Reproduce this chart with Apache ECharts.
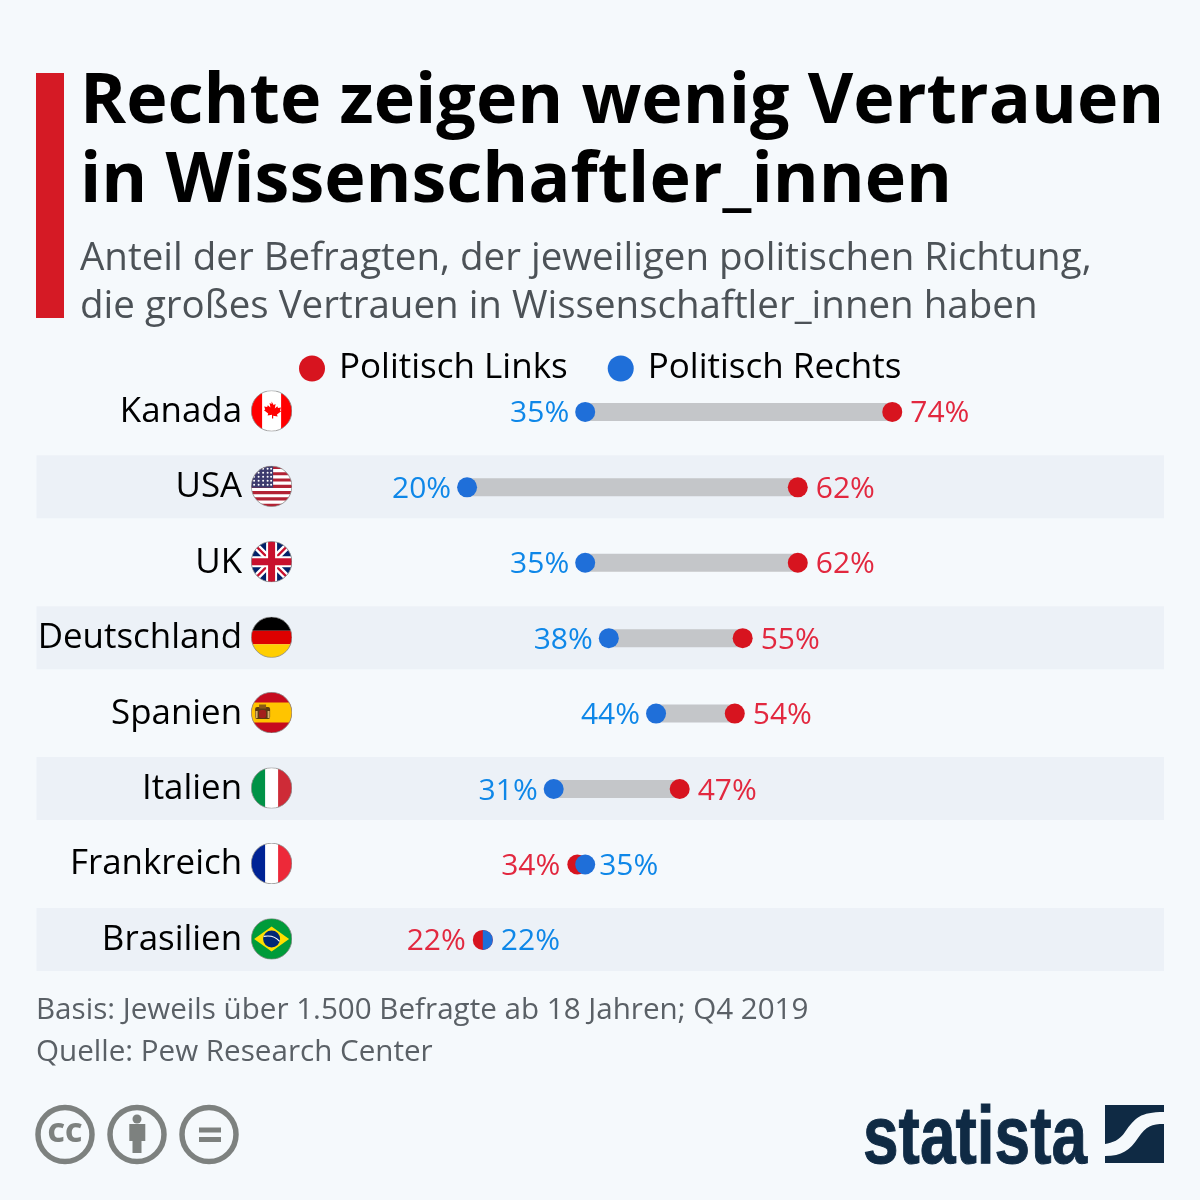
<!DOCTYPE html>
<html>
<head>
<meta charset="utf-8">
<script src="https://cdn.jsdelivr.net/npm/echarts@6/dist/echarts.min.js"></script>
<style>
  html, body { margin: 0; padding: 0; background: #f5f9fc; }
  #chart { width: 1200px; height: 1200px; }
</style>
</head>
<body>
<div id="chart"></div>
<script>
const categories = ['Kanada', 'USA', 'UK', 'Deutschland', 'Spanien', 'Italien', 'Frankreich', 'Brasilien'];
const links = [74, 62, 62, 55, 54, 47, 34, 22];
const rechts = [35, 20, 35, 38, 44, 31, 35, 22];

const FONT = '"Open Sans", "Noto Sans", sans-serif';
const RED = '#d7141f';
const BLUE = '#1f6fd9';
const RED_TEXT = '#e2283f';
const BLUE_TEXT = '#0e87e8';
const GREY = '#7d817f';
const NAVY = '#0f2a44';

// flags, 41x41, clipped to a circle
const flagBodies = [
  '<rect width="41" height="41" fill="#fff"/><rect width="11" height="41" fill="#f00"/><rect x="30" width="11" height="41" fill="#f00"/><path d="M20.5 11l2 3.6 2-1-.8 4.6 2.6-2.4.6 1.8 3-.5-1 3 1.2.7-4.2 3.4.6 1.8-4.4-.6V28h-1.2v-3.6l-4.4.6.6-1.8-4.2-3.4 1.2-.7-1-3 3 .5.6-1.8 2.6 2.4-.8-4.6 2 1z" fill="#f00"/>',
  '<rect width="41" height="41" fill="#fff"/>' +
    [0, 2, 4, 6, 8, 10, 12].map(i => '<rect y="' + (i * 3.15) + '" width="41" height="3.15" fill="#b22234"/>').join('') +
    '<rect width="22" height="22" fill="#3c3b6e"/>' +
    [3, 7.5, 12, 16.5, 20].map(x => [3, 7, 11, 15, 19].map(y => '<circle cx="' + x + '" cy="' + y + '" r="1" fill="#fff"/>').join('')).join(''),
  '<rect width="41" height="41" fill="#012169"/><path d="M0 0L41 41M41 0L0 41" stroke="#fff" stroke-width="7"/><path d="M0 0L41 41M41 0L0 41" stroke="#c8102e" stroke-width="2.4"/><path d="M20.5 0V41M0 20.5H41" stroke="#fff" stroke-width="11"/><path d="M20.5 0V41M0 20.5H41" stroke="#c8102e" stroke-width="7"/>',
  '<rect width="41" height="14" fill="#000"/><rect y="14" width="41" height="13.5" fill="#d00"/><rect y="27.5" width="41" height="13.5" fill="#ffce00"/>',
  '<rect width="41" height="41" fill="#c60b1e"/><rect y="10.5" width="41" height="20" fill="#ffc400"/><rect x="4" y="15" width="15" height="12" rx="2" fill="#5c3a12"/><rect x="8" y="12.5" width="7" height="4" fill="#8a5a14"/><rect x="8" y="18" width="7" height="8" rx="2" fill="#a3201c"/><rect x="4.5" y="19" width="2" height="7" fill="#d9b26a"/><rect x="16.5" y="19" width="2" height="7" fill="#d9b26a"/>',
  '<rect width="41" height="41" fill="#fff"/><rect width="14" height="41" fill="#009246"/><rect x="27" width="14" height="41" fill="#ce2b37"/>',
  '<rect width="41" height="41" fill="#fff"/><rect width="14" height="41" fill="#002395"/><rect x="27" width="14" height="41" fill="#ed2939"/>',
  '<rect width="41" height="41" fill="#009b3a"/><path d="M20.5 8L38 20.5 20.5 33 3 20.5z" fill="#fedf00"/><circle cx="20.5" cy="20.5" r="8.5" fill="#002776"/><path d="M12.5 18c6-1 12 0 16 5" stroke="#fff" stroke-width="1.2" fill="none"/>'
];

function flagUrl(body, i) {
  const svg = '<svg xmlns="http://www.w3.org/2000/svg" width="41" height="41" viewBox="0 0 41 41">' +
    '<defs><clipPath id="c' + i + '"><circle cx="20.5" cy="20.5" r="20.3"/></clipPath></defs>' +
    '<g clip-path="url(#c' + i + ')">' + body + '</g>' +
    '<circle cx="20.5" cy="20.5" r="20.3" fill="none" stroke="#8a8a8a" stroke-width="0.8"/></svg>';
  return 'data:image/svg+xml;charset=utf-8,' + encodeURIComponent(svg);
}

const labelRich = {
  name: { fontFamily: FONT, fontSize: 34.9, color: '#000', padding: [2, 9, 0, 0] }
};
flagBodies.forEach((body, i) => {
  labelRich['f' + i] = { width: 41, height: 41, backgroundColor: { image: flagUrl(body, i) } };
});

const chart = echarts.init(document.getElementById('chart'));

chart.setOption({
  animation: false,
  backgroundColor: '#f5f9fc',
  title: [
    {
      text: 'Rechte zeigen wenig Vertrauen\nin Wissenschaftler_innen',
      left: 80, top: 64, padding: 0,
      textStyle: { fontFamily: FONT, fontSize: 70, fontWeight: 700, color: '#000', lineHeight: 79 }
    },
    {
      text: 'Anteil der Befragten, der jeweiligen politischen Richtung,\ndie großes Vertrauen in Wissenschaftler_innen haben',
      left: 80, top: 235, padding: 0,
      textStyle: { fontFamily: FONT, fontSize: 38.5, fontWeight: 400, color: '#4c5257', lineHeight: 48 }
    },
    {
      text: 'Basis: Jeweils über 1.500 Befragte ab 18 Jahren; Q4 2019\nQuelle: Pew Research Center',
      left: 36, top: 990, padding: 0,
      textStyle: { fontFamily: FONT, fontSize: 29.6, fontWeight: 400, color: '#5a6066', lineHeight: 42 }
    }
  ],
  legend: {
    data: ['Politisch Links', 'Politisch Rechts'],
    left: 299, top: 351, padding: 0,
    icon: 'circle', itemWidth: 26, itemHeight: 26, itemGap: 40,
    textStyle: { fontFamily: FONT, fontSize: 35, color: '#000', padding: [0, 0, 0, 9] }
  },
  grid: { left: 309.6, right: 103, top: 374.2, height: 603.4 },
  xAxis: { type: 'value', min: 0, max: 100, show: false },
  yAxis: {
    type: 'category',
    data: categories,
    inverse: true,
    z: 3,
    axisLine: { show: false },
    axisTick: { show: false },
    splitLine: { show: false },
    axisLabel: {
      margin: 17.5,
      padding: [0, 0, 2, 0],
      formatter: (value, index) => '{name|' + value + '}{f' + index + '|}',
      rich: labelRich
    }
  },
  series: [
    {
      // striped rows run over the full page width
      type: 'custom',
      silent: true,
      z: 0,
      data: categories.map((c, i) => [0, i]),
      encode: { x: 0, y: 1 },
      renderItem: (params, api) => {
        const i = api.value(1);
        if (i % 2 === 0) return null;
        const mid = api.coord([0, i])[1];
        return { type: 'rect', shape: { x: 36.5, y: mid - 32, width: 1127.5, height: 63 }, style: { fill: '#ecf1f7' } };
      }
    },
    {
      type: 'custom',
      silent: true,
      z: 1,
      data: categories.map((c, i) => [rechts[i], links[i], i]),
      encode: { x: [0, 1], y: 2 },
      renderItem: (params, api) => {
        const a = api.coord([api.value(0), api.value(2)]);
        const b = api.coord([api.value(1), api.value(2)]);
        return {
          type: 'line',
          shape: { x1: a[0], y1: a[1], x2: b[0], y2: b[1] },
          style: { stroke: '#c4c6c9', lineWidth: 18 }
        };
      }
    },
    {
      name: 'Politisch Links',
      type: 'scatter',
      z: 2,
      symbolSize: 20,
      itemStyle: { color: RED, opacity: 1 },
      data: links.map((v, i) => ({
        value: [v, i],
        label: v > rechts[i] ? { position: 'right', distance: 8 } : { position: 'left', distance: 7 }
      })),
      label: {
        show: true,
        offset: [0, 2],
        formatter: p => p.value[0] + '%',
        fontFamily: FONT, fontSize: 30, color: RED_TEXT
      }
    },
    {
      name: 'Politisch Rechts',
      type: 'scatter',
      z: 2,
      symbolSize: 20,
      itemStyle: { color: BLUE, opacity: 1 },
      data: rechts.map((v, i) => {
        const item = {
          value: [v, i],
          label: v > links[i] ? { position: 'right', distance: 4 } : { position: 'left', distance: 6 }
        };
        if (v === links[i]) {
          // same value on both sides: blue only covers the right half
          item.symbol = 'path://M0 0A10 10 0 0 1 0 20Z';
          item.symbolSize = [10, 20];
          item.symbolOffset = [5, 0];
          item.label = { position: 'right', distance: 8 };
        }
        return item;
      }),
      label: {
        show: true,
        offset: [0, 2],
        formatter: p => p.value[0] + '%',
        fontFamily: FONT, fontSize: 30, color: BLUE_TEXT
      }
    },
    {
      // logo mark, the graphic component has no path type
      type: 'custom',
      silent: true,
      data: [[0, 0]],
      encode: { x: 0, y: 1 },
      renderItem: () => ({
        type: 'path',
        shape: {
          pathData: 'M1105 1105H1164V1112C1140 1112 1135 1118 1125 1132C1120 1140 1112 1143 1105 1144ZM1164 1124V1163H1105V1156C1122 1156 1130 1150 1138 1138C1146 1126 1152 1124 1164 1124Z',
          x: 1105, y: 1105, width: 59, height: 58, layout: 'cover'
        },
        style: { fill: NAVY }
      })
    }
  ],
  graphic: [
    { type: 'rect', shape: { x: 36, y: 73, width: 28, height: 245 }, style: { fill: '#d51a25' } },

    { type: 'circle', shape: { cx: 65, cy: 1134.5, r: 27 }, style: { fill: 'none', stroke: GREY, lineWidth: 5.5 } },
    { type: 'text', x: 65, y: 1134, style: { text: 'CC', font: '800 27px ' + FONT, fill: GREY, textAlign: 'center', textVerticalAlign: 'middle' } },

    { type: 'circle', shape: { cx: 137, cy: 1134.5, r: 27 }, style: { fill: 'none', stroke: GREY, lineWidth: 5.5 } },
    { type: 'circle', shape: { cx: 137, cy: 1119, r: 4.5 }, style: { fill: GREY } },
    { type: 'polygon', shape: { points: [[129.3, 1124], [145.3, 1124], [145.3, 1141], [141.5, 1141], [141.5, 1153], [132.5, 1153], [132.5, 1141], [129.3, 1141]] }, style: { fill: GREY } },

    { type: 'circle', shape: { cx: 209, cy: 1134.5, r: 27 }, style: { fill: 'none', stroke: GREY, lineWidth: 5.5 } },
    { type: 'rect', shape: { x: 199, y: 1127.5, width: 22, height: 5 }, style: { fill: GREY } },
    { type: 'rect', shape: { x: 199, y: 1137, width: 22, height: 5 }, style: { fill: GREY } },

    { type: 'text', x: 863, y: 1181, scaleX: 0.79, style: { text: 'statista', font: '700 81px "Liberation Sans", sans-serif', fill: NAVY, stroke: NAVY, lineWidth: 1, textAlign: 'left', textVerticalAlign: 'bottom' } }
  ]
});
</script>
</body>
</html>
